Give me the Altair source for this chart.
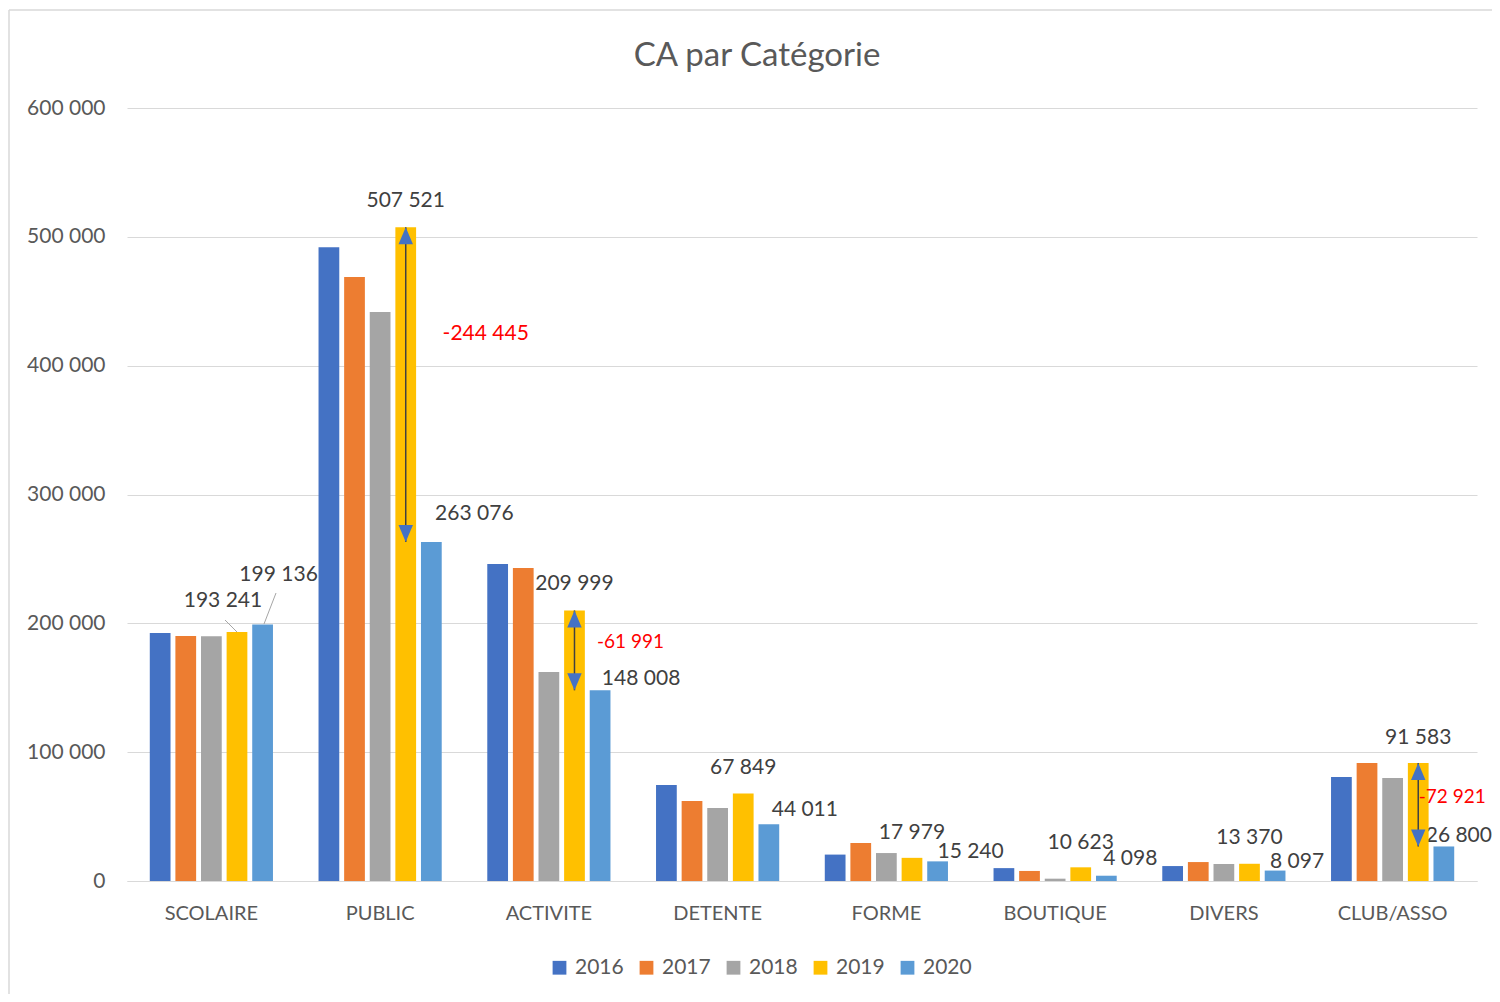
import altair as alt
import pandas as pd

categories = ["SCOLAIRE", "PUBLIC", "ACTIVITE", "DETENTE", "FORME", "BOUTIQUE", "DIVERS", "CLUB/ASSO"]
years = ["2016", "2017", "2018", "2019", "2020"]
v2016 = [192500, 492000, 246000, 74500, 20500, 10000, 11600, 80700]
v2017 = [190200, 468800, 243000, 62000, 29500, 7800, 14700, 91600]
v2018 = [190000, 441600, 162200, 56700, 21700, 1800, 13200, 80000]
v2019 = [193241, 507521, 209999, 67849, 17979, 10623, 13370, 91583]
v2020 = [199136, 263076, 148008, 44011, 15240, 4098, 8097, 26800]

diff_categories = ["PUBLIC", "ACTIVITE", "CLUB/ASSO"]
diff_values = [-244445, -61991, -72921]

title_text = "CA par Catégorie"
colors = ["#4472C4", "#ED7D31", "#A5A5A5", "#FFC000", "#5B9BD5"]
FONT = "Lato"


def fr(n):
    s = f"{abs(n):,}".replace(",", " ")
    return ("-" if n < 0 else "") + s


series = dict(zip(years, [v2016, v2017, v2018, v2019, v2020]))
rows = []
for yr in years:
    for c, v in zip(categories, series[yr]):
        rows.append({"cat": c, "year": yr, "value": v, "label": fr(v)})
df = pd.DataFrame(rows)

X = alt.X(
    "cat:N", sort=categories,
    scale=alt.Scale(paddingInner=0.27, paddingOuter=0.135),
    axis=alt.Axis(title=None, labelAngle=0, labelFontSize=20, labelColor="#595959",
                  labelFont=FONT, labelPadding=22, ticks=False, domain=True,
                  domainColor="#D9D9D9", domainWidth=1.2),
)
XO = alt.XOffset("year:N", sort=years, scale=alt.Scale(paddingInner=0.19))
Y = alt.Y(
    "value:Q", scale=alt.Scale(domain=[0, 600000], nice=False),
    axis=alt.Axis(title=None, values=[0, 100000, 200000, 300000, 400000, 500000, 600000],
                  labelExpr="datum.value == 0 ? '0' : format(datum.value / 1000, 'd') + ' 000'",
                  labelFontSize=21, labelColor="#595959", labelFont=FONT, labelPadding=22,
                  ticks=False, domain=False, gridColor="#D9D9D9", gridWidth=1.2),
)

base = alt.Chart(df)

bars = base.mark_bar().encode(
    x=X, xOffset=XO, y=Y,
    color=alt.Color("year:N", sort=years, scale=alt.Scale(domain=years, range=colors),
                    legend=alt.Legend(title=None, orient="none", legendX=422, legendY=849,
                                      direction="horizontal", columns=5, symbolType="square",
                                      symbolSize=190, symbolStrokeWidth=0, labelFontSize=21,
                                      labelFont=FONT, labelColor="#595959", columnPadding=12,
                                      labelOffset=5, padding=0)),
)

# label offsets (pixels) relative to each bar's top centre, for 2019 and 2020 labels
label_offsets = {
    ("SCOLAIRE", "2019"): (-14, -31), ("SCOLAIRE", "2020"): (16, -49),
    ("PUBLIC", "2019"): (0, -26), ("PUBLIC", "2020"): (43, -28),
    ("ACTIVITE", "2019"): (0, -26), ("ACTIVITE", "2020"): (41, -11),
    ("DETENTE", "2019"): (0, -26), ("DETENTE", "2020"): (36, -14),
    ("FORME", "2019"): (0, -25), ("FORME", "2020"): (33, -9),
    ("BOUTIQUE", "2019"): (0, -24), ("BOUTIQUE", "2020"): (24, -17),
    ("DIVERS", "2019"): (0, -26), ("DIVERS", "2020"): (22, -9),
    ("CLUB/ASSO", "2019"): (0, -25), ("CLUB/ASSO", "2020"): (15, -10),
}

label_layers = []
for (c, yr), (dx, dy) in label_offsets.items():
    label_layers.append(
        base.transform_filter(f"datum.cat == '{c}' && datum.year == '{yr}'")
        .mark_text(dx=dx, dy=dy, fontSize=21, font=FONT, color="#404040")
        .encode(x=X, xOffset=XO, y=Y, text="label:N")
    )

# arrows between 2019 and 2020 values
arrow_rows = []
for c, d in zip(diff_categories, diff_values):
    i = categories.index(c)
    arrow_rows.append({"cat": c, "year": "2019", "value": v2019[i], "value2": v2020[i],
                       "mid": (v2019[i] + v2020[i]) / 2, "dlabel": fr(d)})
adf = pd.DataFrame(arrow_rows)
abase = alt.Chart(adf)

arrow_line = abase.mark_rule(color="#404040", strokeWidth=1.5).encode(
    x=X, xOffset=XO, y=Y, y2="value2:Q")
head_up = abase.mark_point(shape="M0,-1L0.85,1L-0.85,1Z", size=289, filled=True,
                           color="#4472C4", opacity=1, strokeWidth=0, yOffset=8.5).encode(
    x=X, xOffset=XO, y=Y)
head_down = abase.mark_point(shape="M0,1L0.85,-1L-0.85,-1Z", size=289, filled=True,
                             color="#4472C4", opacity=1, strokeWidth=0, yOffset=-8.5).encode(
    x=X, xOffset=XO, y=alt.Y("value2:Q"))

diff_offsets = {"PUBLIC": (80, -51, 21), "ACTIVITE": (56, -8, 19), "CLUB/ASSO": (34, -8, 19)}
diff_layers = []
for c, (dx, dy, fs) in diff_offsets.items():
    diff_layers.append(
        abase.transform_filter(f"datum.cat == '{c}'")
        .mark_text(dx=dx, dy=dy, fontSize=fs, font=FONT, color="#FF0000")
        .encode(x=X, xOffset=XO, y=alt.Y("mid:Q"), text="dlabel:N")
    )

one = pd.DataFrame({"f": [0]})
frame_left = alt.Chart(one).mark_rule(color="#D9D9D9", strokeWidth=1.5).encode(
    x=alt.value(-118), y=alt.value(-98), y2=alt.value(892))
frame_top = alt.Chart(one).mark_rule(color="#D9D9D9", strokeWidth=1.5).encode(
    x=alt.value(-118), x2=alt.value(1373), y=alt.value(-98))
leader1 = alt.Chart(one).mark_rule(color="#A6A6A6", strokeWidth=1).encode(
    x=alt.value(98), x2=alt.value(110), y=alt.value(512), y2=alt.value(524))
leader2 = alt.Chart(one).mark_rule(color="#A6A6A6", strokeWidth=1).encode(
    x=alt.value(149), x2=alt.value(137), y=alt.value(485), y2=alt.value(516))
title = alt.Chart(one).mark_text(text=title_text, fontSize=33, font=FONT, color="#595959").encode(
    x=alt.value(630), y=alt.value(-52))

chart = alt.layer(
    frame_left, frame_top, title, leader1, leader2, *label_layers, bars,
    arrow_line, head_up, head_down, *diff_layers
).properties(
    width=1350, height=773,
    autosize=alt.AutoSizeParams(type="none"),
    padding={"left": 119, "top": 100, "right": 15, "bottom": 113},
).configure(background="white").configure_view(stroke=None)

chart.save("out.html", embed_options={"renderer": "svg", "actions": False})
